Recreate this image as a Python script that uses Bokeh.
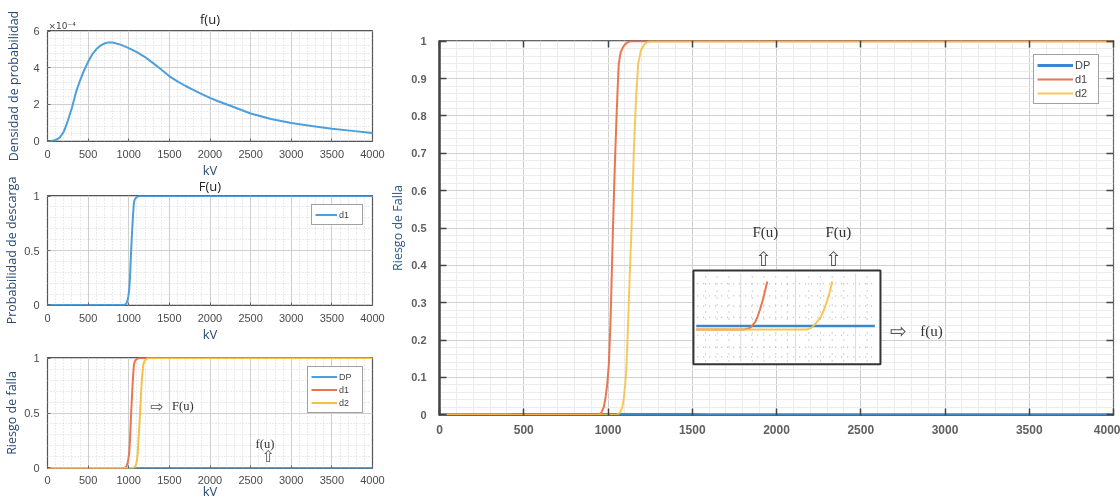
from bokeh.plotting import figure
from bokeh.layouts import row, column
from bokeh.models import (FixedTicker, NumeralTickFormatter, Range1d, LinearAxis, Label, Title,
                          CustomJSTickFormatter)
from bokeh.core.properties import value
from bokeh.embed import file_html
from bokeh.resources import INLINE

# ---------------- data ----------------
kv_f = [0, 50, 100, 150, 200, 250, 300, 350, 400, 450, 500, 550, 600, 650, 700, 750, 800,
        900, 1000, 1100, 1200, 1300, 1400, 1500, 1600, 1700, 1800, 1900, 2000, 2100, 2250,
        2500, 2750, 3000, 3250, 3500, 3750, 4000]
f_u_1e4 = [0.0, 0.0, 0.05, 0.18, 0.5, 1.1, 1.8, 2.65, 3.3, 3.85, 4.32, 4.72, 5.0, 5.2, 5.32,
           5.38, 5.37, 5.26, 5.07, 4.85, 4.58, 4.25, 3.9, 3.53, 3.25, 3.0, 2.77, 2.56, 2.35,
           2.17, 1.92, 1.5, 1.2, 0.98, 0.82, 0.67, 0.55, 0.43]

kv_d1 = [0, 940, 960, 975, 985, 995, 1005, 1015, 1022, 1029, 1036, 1043, 1050, 1057, 1064,
         1075, 1090, 1104, 1120, 1135, 4000]
risk_d1 = [0, 0, 0.005, 0.02, 0.045, 0.08, 0.135, 0.25, 0.37, 0.49, 0.6, 0.7, 0.79, 0.87, 0.94,
           0.97, 0.985, 0.993, 0.998, 1.0, 1.0]

kv_d2 = [0, 1050, 1070, 1085, 1094, 1104, 1110, 1118, 1125, 1132, 1139, 1146, 1153, 1160, 1167,
         1179, 1195, 1213, 1230, 1245, 4000]
risk_d2 = [0, 0, 0.005, 0.02, 0.045, 0.09, 0.135, 0.23, 0.32, 0.41, 0.49, 0.6, 0.7, 0.78, 0.85,
           0.94, 0.975, 0.99, 0.997, 1.0, 1.0]

# DP: the probability density on the risk scale (practically zero)
dp_risk = [v * 1e-4 for v in f_u_1e4]

# inset (zoomed view), values in percent of the inset box
inset_dp_x = [1.5, 97.0]
inset_dp_y = [40.8, 40.8]
inset_d1_x = [1.5, 27.0, 30.0, 31.5, 33.0, 34.2, 35.5, 37.0, 38.5, 39.5]
inset_d1_y = [37.2, 37.2, 38.5, 41.5, 45.0, 50.4, 58.0, 68.0, 80.0, 88.3]
inset_d2_x = [1.5, 61.0, 63.0, 64.4, 66.2, 68.0, 69.8, 71.5, 73.0, 74.2]
inset_d2_y = [37.2, 37.2, 39.0, 41.5, 45.5, 50.4, 58.0, 68.0, 78.0, 88.3]
inset_dot_cols = [6.5, 12.7, 19.0, 31.5, 37.7, 44.0, 50.2, 61.7, 67.9, 74.2, 80.4, 92.9]
inset_solid_cols = [25.3, 54.6, 86.7]
inset_dot_rows = [8, 18, 31, 50, 62, 73, 86]

# tick labels
x_ticks = [0, 500, 1000, 1500, 2000, 2500, 3000, 3500, 4000]
x_minor = list(range(0, 4001, 100))
f_ticks = [0, 2, 4, 6]
f_minor = [0.4 * i for i in range(16)]
p_ticks = [0, 0.5, 1]
p_minor = [0.1 * i for i in range(11)]
main_y_ticks = [0, 0.1, 0.2, 0.3, 0.4, 0.5, 0.6, 0.7, 0.8, 0.9, 1]
main_y_minor = [0.02 * i for i in range(51)]

# annotation texts
ann3_text = ["F(u)", "f(u)"]
ann3_x = [1665, 2676]
ann3_y = [0.568, 0.215]
ann3_arrow = ["\u21e8", "\u21e7"]
ann3_arrow_x = [1350, 2713]
ann3_arrow_y = [0.56, 0.1]
main_ann_text = ["F(u)", "F(u)", "f(u)"]
main_ann_x = [1934, 2367, 2920]
main_ann_y = [0.488, 0.488, 0.225]
main_arrow_text = ["\u21e7", "\u21e7", "\u21e8"]
main_arrow_x = [1922, 2338, 2722]
main_arrow_y = [0.418, 0.418, 0.223]

# ---------------- style ----------------
BLUE = "#4d9fdc"
BLUE_MAIN = "#3a88c9"
RED = "#ea7650"
YELLOW = "#f5c043"
TICK_FONT = "Liberation Sans"
LBL_FONT = "Open Sans"
LBL_COLOR = "#284a73"
GRID = "#cfcfcf"
LEFT_W = 385


def style_title(t, standoff):
    t.text_font = LBL_FONT
    t.text_font_size = "13px"
    t.text_font_style = "normal"
    t.text_color = "#222222"
    t.standoff = standoff


def left_fig(height, top, y0, y1, yticks, yminor, ylabel, ystandoff, title=None,
             tstandoff=6, margin=0):
    p = figure(width=LEFT_W, height=height, x_range=Range1d(0, 4000), y_range=Range1d(y0, y1),
               output_backend="svg", toolbar_location=None, min_border_left=47,
               min_border_right=LEFT_W - 372, min_border_top=top, min_border_bottom=42,
               title=title, margin=(margin, 0, 0, 0), border_fill_color=None)
    if title:
        p.title.align = "center"
        style_title(p.title, tstandoff)
    p.xaxis.ticker = FixedTicker(ticks=x_ticks, minor_ticks=x_minor)
    p.yaxis.ticker = FixedTicker(ticks=yticks, minor_ticks=yminor)
    p.yaxis.formatter = NumeralTickFormatter(format="0.[0]")
    for ax in (p.xaxis, p.yaxis):
        ax.major_label_text_font = TICK_FONT
        ax.major_label_text_font_size = "11px"
        ax.major_label_text_color = "#4a4a4a"
        ax.major_tick_in = 3
        ax.major_tick_out = 0
        ax.major_tick_line_color = "#666666"
        ax.minor_tick_line_color = None
        ax.axis_line_color = None
        ax.axis_label_text_font = LBL_FONT
        ax.axis_label_text_font_style = "normal"
        ax.axis_label_text_color = LBL_COLOR
    p.xaxis.axis_label = "kV"
    p.xaxis.axis_label_text_font_size = "13px"
    p.xaxis.major_label_standoff = 4
    p.xaxis.axis_label_standoff = 0
    p.yaxis.axis_label = ylabel
    p.yaxis.axis_label_text_font_size = "12.5px"
    p.yaxis.major_label_standoff = 4
    p.yaxis.axis_label_standoff = ystandoff
    p.outline_line_color = "#555555"
    p.outline_line_width = 1.2
    for g in (p.xgrid, p.ygrid):
        g.grid_line_color = GRID
        g.minor_grid_line_color = "#d6d6d6"
        g.minor_grid_line_dash = "1 2"
    return p


# ---- figure 1: f(u)  (exponent title next to the frame, plot title pulled down beside it)
f1 = left_fig(183, 30, -0.03, 6.03, f_ticks, f_minor, "Densidad de probabilidad", 8)
exp_title = Title(text="\u00d710\u207b\u2074", align="left", text_font="DejaVu Sans",
                  text_font_size="9px", text_font_style="normal", text_color="#444444",
                  standoff=0, offset=1)
f1.add_layout(exp_title, "above")
main_title1 = Title(text="f(u)", align="center")
style_title(main_title1, -18)
f1.add_layout(main_title1, "above")
f1.line(kv_f, f_u_1e4, line_color=BLUE, line_width=2)

# ---- figure 2: F(u)
f2 = left_fig(176, 24, -0.005, 1.005, p_ticks, p_minor, "Probabilidad de descarga", 1,
              title="F(u)", tstandoff=2, margin=-12)
f2.line(kv_d1, risk_d1, line_color=BLUE, line_width=2, legend_label="d1")

# ---- figure 3: risk
f3 = left_fig(171, 18, -0.005, 1.005, p_ticks, p_minor, "Riesgo de falla", 1, margin=-8)
f3.xaxis.major_label_standoff = 3
f3.xaxis.axis_label_standoff = -5
f3.line(kv_f, dp_risk, line_color=BLUE, line_width=2, legend_label="DP")
f3.line(kv_d1, risk_d1, line_color=RED, line_width=2, legend_label="d1")
f3.line(kv_d2, risk_d2, line_color=YELLOW, line_width=2, legend_label="d2")
f3.text(x=ann3_x, y=ann3_y, text=ann3_text, text_align="center", text_baseline="middle",
        text_font=value("Liberation Serif"), text_font_size="12.5px", text_color="#333333")
f3.text(x=ann3_arrow_x, y=ann3_arrow_y, text=ann3_arrow, text_align="center",
        text_baseline="middle", text_font=value("DejaVu Sans"), text_font_size="16px",
        text_color="#555555")

for p, gw in ((f2, 22), (f3, 26)):
    lg = p.legend[0]
    lg.location = "top_right"
    lg.margin = 9
    lg.padding = 3
    lg.spacing = 0
    lg.glyph_width = gw
    lg.glyph_height = 13
    lg.label_height = 13
    lg.label_standoff = 2
    lg.label_text_font = TICK_FONT
    lg.label_text_font_size = "9px"
    lg.label_text_color = "#444444"
    lg.border_line_color = "#444444"
    lg.border_line_width = 1.5
    lg.background_fill_alpha = 1

# ---- main figure
X0, X1 = 0, 4000
Y0, Y1 = -0.002, 1.002
MAIN_W = 1120 - LEFT_W
main = figure(width=MAIN_W, height=499, x_range=Range1d(X0, X1), y_range=Range1d(Y0, Y1),
              output_backend="svg", toolbar_location=None, min_border_left=439 - LEFT_W,
              min_border_right=MAIN_W - (439 - LEFT_W) - 674, min_border_top=40,
              min_border_bottom=84)
main.xaxis.ticker = FixedTicker(ticks=x_ticks, minor_ticks=x_minor)
main.yaxis.ticker = FixedTicker(ticks=main_y_ticks, minor_ticks=main_y_minor)
main.yaxis.formatter = NumeralTickFormatter(format="0.[0]")
for ax in (main.xaxis, main.yaxis):
    ax.major_label_text_font = TICK_FONT
    ax.major_label_text_color = "#606060"
    ax.major_label_text_font_style = "bold"
    ax.major_tick_in = 7
    ax.major_tick_out = 0
    ax.major_tick_line_color = "#444444"
    ax.major_tick_line_width = 1.5
    ax.minor_tick_line_color = None
main.xaxis.major_label_text_font_size = "12px"
main.yaxis.major_label_text_font_size = "11px"
main.xaxis.major_label_standoff = 5
main.yaxis.major_label_standoff = 9
main.yaxis.axis_line_color = "#444444"
main.yaxis.axis_line_width = 2.5
main.xaxis.axis_line_color = "#666666"
main.yaxis.axis_label = "Riesgo de Falla"
main.yaxis.axis_label_text_font = LBL_FONT
main.yaxis.axis_label_text_font_size = "12.5px"
main.yaxis.axis_label_text_font_style = "normal"
main.yaxis.axis_label_text_color = "#2c5a8c"
main.yaxis.axis_label_standoff = 2
main.outline_line_color = "#666666"
main.outline_line_width = 1.2
main.xgrid.grid_line_color = GRID
main.ygrid.grid_line_color = GRID
main.xgrid.minor_grid_line_color = "#ececec"
main.ygrid.minor_grid_line_color = "#ececec"

blank = CustomJSTickFormatter(code="return ''")
top_ax = LinearAxis(ticker=FixedTicker(ticks=x_ticks), formatter=blank, major_tick_in=7,
                    major_tick_out=0, major_tick_line_color="#444444", major_tick_line_width=1.5,
                    minor_tick_line_color=None, axis_line_color=None,
                    major_label_text_font_size="1px", major_label_standoff=0)
right_ax = LinearAxis(ticker=FixedTicker(ticks=main_y_ticks), formatter=blank, major_tick_in=7,
                      major_tick_out=0, major_tick_line_color="#444444",
                      major_tick_line_width=1.5, minor_tick_line_color=None,
                      axis_line_color=None, major_label_text_font_size="1px",
                      major_label_standoff=0)
main.add_layout(top_ax, "above")
main.add_layout(right_ax, "right")

main.line(kv_f, dp_risk, line_color=BLUE_MAIN, line_width=3, legend_label="DP")
main.line(kv_d1, risk_d1, line_color=RED, line_width=2, legend_label="d1")
main.line(kv_d2, risk_d2, line_color=YELLOW, line_width=2, line_alpha=0.85, legend_label="d2")

lg = main.legend[0]
lg.location = "top_right"
lg.margin = 14
lg.padding = 3
lg.spacing = 0
lg.glyph_width = 36
lg.glyph_height = 14
lg.label_height = 14
lg.label_standoff = 2
lg.label_text_font = TICK_FONT
lg.label_text_font_size = "11px"
lg.label_text_color = "#444444"
lg.border_line_color = "#444444"
lg.border_line_width = 1.5

main.add_layout(Label(x=1655, y=Y0, text="kV", y_offset=-33, text_align="center",
                      text_baseline="middle", text_font=LBL_FONT,
                      text_font_size="14px", text_color=LBL_COLOR))

# inset box (position in main data units) and its own ranges (percent of the box)
BOX_X = (1507, 2617)
BOX_Y = (0.135, 0.386)
bw = BOX_X[1] - BOX_X[0]
bh = BOX_Y[1] - BOX_Y[0]
main.extra_x_ranges = {"ix": Range1d((X0 - BOX_X[0]) / bw * 100, (X1 - BOX_X[0]) / bw * 100)}
main.extra_y_ranges = {"iy": Range1d((Y0 - BOX_Y[0]) / bh * 100, (Y1 - BOX_Y[0]) / bh * 100)}
kw = dict(x_range_name="ix", y_range_name="iy")
main.quad(left=[0], right=[100], bottom=[0], top=[100], fill_color="white",
          line_color="#333333", line_width=2, **kw)
main.segment(x0=inset_solid_cols, x1=inset_solid_cols, y0=[3] * len(inset_solid_cols),
             y1=[97] * len(inset_solid_cols), line_color="#dddddd", line_width=1, **kw)
main.segment(x0=inset_dot_cols, x1=inset_dot_cols, y0=[3] * len(inset_dot_cols),
             y1=[97] * len(inset_dot_cols), line_color="#b0b0b0", line_width=1.2,
             line_dash="1 6", **kw)
main.segment(x0=[2] * len(inset_dot_rows), x1=[98] * len(inset_dot_rows), y0=inset_dot_rows,
             y1=inset_dot_rows, line_color="#b8b8b8", line_width=1.2, line_dash="1 5", **kw)
main.line(inset_dp_x, inset_dp_y, line_color=BLUE_MAIN, line_width=2.5, **kw)
main.line(inset_d1_x, inset_d1_y, line_color=RED, line_width=2, **kw)
main.line(inset_d2_x, inset_d2_y, line_color=YELLOW, line_width=2, line_alpha=0.9, **kw)

main.text(x=main_ann_x, y=main_ann_y, text=main_ann_text, text_align="center",
          text_baseline="middle", text_font=value("Liberation Serif"), text_font_size="15px",
          text_color="#333333")
main.text(x=main_arrow_x, y=main_arrow_y, text=main_arrow_text, text_align="center",
          text_baseline="middle", text_font=value("DejaVu Sans"), text_font_size="20px",
          text_color="#555555")

layout = row(column(f1, f2, f3), main,
             styles={"position": "fixed", "left": "0px", "top": "0px"})

open("out.html", "w").write(file_html(layout, INLINE))
